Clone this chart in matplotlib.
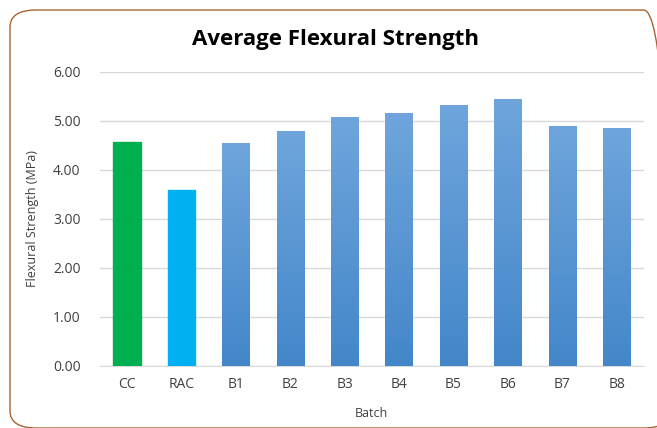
import matplotlib.pyplot as plt
import numpy as np
from matplotlib.patches import FancyBboxPatch
from matplotlib.colors import LinearSegmentedColormap

batches = ['CC', 'RAC', 'B1', 'B2', 'B3', 'B4', 'B5', 'B6', 'B7', 'B8']
strength = [4.57, 3.58, 4.54, 4.80, 5.07, 5.17, 5.33, 5.45, 4.90, 4.85]
solid_colors = {'CC': '#00B050', 'RAC': '#00B0F0'}

plt.rcParams['font.family'] = ['Open Sans', 'DejaVu Sans']

fig = plt.figure(figsize=(6.57, 4.28), dpi=100)
ax = fig.add_axes([0.152, 0.145, 0.828, 0.687])

# rounded outer frame (right side runs off the canvas)
frame = FancyBboxPatch((10 / 657, 0.0), 660 / 657, 1 - 10 / 428,
                       boxstyle='round,pad=0,rounding_size=0.04',
                       transform=fig.transFigure, fill=False,
                       edgecolor='#A86434', linewidth=1.0, zorder=0)
fig.patches.append(frame)

x = np.arange(len(batches))
bars = ax.bar(x, strength, width=0.5, color='#5B9BD5', zorder=3)

blue_grad = LinearSegmentedColormap.from_list('g', ['#4387C9', '#6FA5DC'])
grad = np.linspace(0, 1, 256).reshape(-1, 1)
for b, name in zip(bars, batches):
    if name in solid_colors:
        b.set_color(solid_colors[name])
        continue
    x0, w, h = b.get_x(), b.get_width(), b.get_height()
    im = ax.imshow(grad, cmap=blue_grad, origin='lower', aspect='auto',
                   extent=(x0, x0 + w, 0, h), zorder=4)
    im.set_clip_path(b)

ax.set_xlim(-0.5, len(batches) - 0.5)
ax.set_ylim(0, 6)
ax.set_yticks(np.arange(0, 7, 1))
ax.set_yticklabels([f'{v:.2f}' for v in np.arange(0, 7, 1)])
ax.set_xticks(x)
ax.set_xticklabels(batches)
ax.tick_params(length=0, labelsize=10, colors='#404040', pad=8)
ax.tick_params(axis='y', pad=14)
ax.grid(axis='y', color='#D9D9D9', linewidth=1, zorder=0)
for s in ['top', 'right', 'left']:
    ax.spines[s].set_visible(False)
ax.spines['bottom'].set_color('#D9D9D9')

ax.set_ylabel('Flexural Strength (MPa)', fontsize=9, color='#404040', labelpad=10)
ax.set_xlabel('Batch', fontsize=9, color='#404040', labelpad=11)
fig.text(0.51, 0.908, 'Average Flexural Strength', ha='center', va='center',
         fontsize=16, fontweight='bold', color='#000000')

fig.savefig('out.png', dpi=100)
